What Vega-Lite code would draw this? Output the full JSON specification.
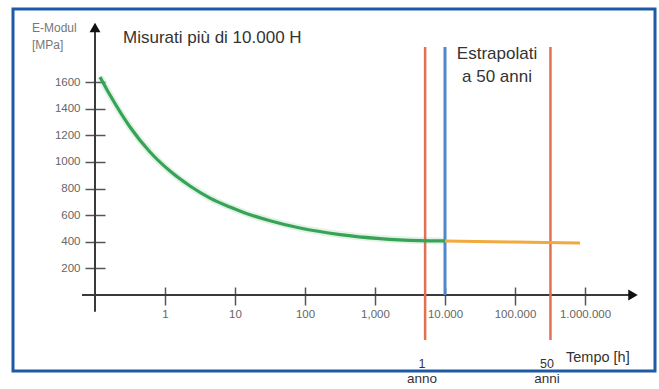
{
  "$schema": "https://vega.github.io/schema/vega-lite/v6.json",
  "width": 642,
  "height": 362,
  "autosize": {"type": "none"},
  "padding": {"left": 13, "top": 9, "right": 4, "bottom": 18},
  "background": "white",
  "config": {
    "view": {"stroke": "#1f5aa6", "strokeWidth": 3, "fill": "white"},
    "font": "Liberation Sans",
    "axis": {"grid": false, "domain": false, "title": null, "tickColor": "#555555", "tickWidth": 1.5, "labelColor": "#666666", "labelFont": "Liberation Sans", "labelFontSize": 11.5, "labelOverlap": false, "labelFlush": false, "labelBound": false}
  },
  "datasets": {
    "misurati": [
      {"h": 0.1179, "E": 1638},
      {"h": 0.1638, "E": 1502},
      {"h": 0.3162, "E": 1262},
      {"h": 0.6105, "E": 1074},
      {"h": 1.179, "E": 931},
      {"h": 2.276, "E": 819},
      {"h": 4.394, "E": 728},
      {"h": 8.483, "E": 661},
      {"h": 16.38, "E": 603},
      {"h": 31.62, "E": 558},
      {"h": 84.83, "E": 503},
      {"h": 316.2, "E": 454},
      {"h": 1179, "E": 424},
      {"h": 4394, "E": 409},
      {"h": 10000, "E": 406}
    ],
    "estrapolati": [
      {"h": 10000, "E": 406},
      {"h": 100000, "E": 398},
      {"h": 850000, "E": 391}
    ],
    "verticali": [
      {"kind": "asse", "h": 0.1, "E": -125, "E2": 1995},
      {"kind": "anno", "h": 5200, "E": -338, "E2": 1863},
      {"kind": "misura", "h": 10000, "E": 0, "E2": 1863},
      {"kind": "anno", "h": 321000, "E": -338, "E2": 1863}
    ],
    "orizzontali": [
      {"h": 0.0652, "h2": 4400000, "E": 0}
    ],
    "frecce": [
      {"dir": "su", "h": 0.1, "E": 2009},
      {"dir": "destra", "h": 4850000, "E": 0}
    ],
    "testi": [
      {"role": "big", "t": "Misurati più di 10.000 H", "h": 0.2512, "E": 1893},
      {"role": "bigc", "t": "Estrapolati", "h": 55300, "E": 1770},
      {"role": "bigc", "t": "a 50 anni", "h": 55300, "E": 1602},
      {"role": "mid", "t": "Tempo [h]", "h": 535000, "E": -500},
      {"role": "small", "t": "E-Modul", "h": 0.01259, "E": 1975},
      {"role": "small", "t": "[MPa]", "h": 0.01259, "E": 1850},
      {"role": "num", "t": "1", "h": 4690, "E": -548},
      {"role": "midc", "t": "anno", "h": 4690, "E": -661},
      {"role": "num", "t": "50", "h": 286600, "E": -548},
      {"role": "midc", "t": "anni", "h": 286600, "E": -661}
    ]
  },
  "layer": [
    {
      "data": {"name": "orizzontali"},
      "mark": {"type": "rule", "color": "#3a3a3a", "strokeWidth": 2},
      "encoding": {
        "x": {"field": "h", "type": "quantitative", "scale": {"type": "log", "domain": [0.1, 1000000], "range": [82, 572]},
          "axis": {"values": [1, 10, 100, 1000, 10000, 100000, 1000000], "orient": "bottom", "offset": -84, "tickSize": 18, "labelPadding": 3,
            "labelExpr": "datum.value < 5 ? '1' : datum.value < 50 ? '10' : datum.value < 500 ? '100' : datum.value < 5000 ? '1,000' : datum.value < 50000 ? '10.000' : datum.value < 500000 ? '100.000' : '1.000.000'"}},
        "x2": {"field": "h2"},
        "y": {"field": "E", "type": "quantitative", "scale": {"domain": [0, 1600], "range": [286, 73]},
          "axis": {"values": [200, 400, 600, 800, 1000, 1200, 1400, 1600], "orient": "left", "offset": -92, "tickSize": 20, "labelPadding": 5, "format": "d"}}
      }
    },
    {
      "data": {"name": "verticali"},
      "mark": {"type": "rule"},
      "encoding": {
        "x": {"field": "h", "type": "quantitative"},
        "y": {"field": "E", "type": "quantitative"},
        "y2": {"field": "E2"},
        "color": {"field": "kind", "type": "nominal", "legend": null, "scale": {"domain": ["asse", "anno", "misura"], "range": ["#3a3a3a", "#e2714f", "#4f86cc"]}},
        "strokeWidth": {"field": "kind", "type": "nominal", "legend": null, "scale": {"domain": ["asse", "anno", "misura"], "range": [2, 3, 2]}}
      }
    },
    {
      "data": {"name": "frecce"},
      "mark": {"type": "point", "filled": true, "color": "#111111", "opacity": 1, "size": 120},
      "encoding": {
        "x": {"field": "h", "type": "quantitative"},
        "y": {"field": "E", "type": "quantitative"},
        "shape": {"field": "dir", "type": "nominal", "legend": null, "scale": {"domain": ["su", "destra"], "range": ["triangle-up", "triangle-right"]}}
      }
    },
    {
      "data": {"name": "misurati"},
      "mark": {"type": "line", "color": "#3aa55a", "strokeWidth": 7, "opacity": 0.15, "interpolate": "monotone"},
      "encoding": {
        "x": {"field": "h", "type": "quantitative"},
        "y": {"field": "E", "type": "quantitative"}
      }
    },
    {
      "data": {"name": "misurati"},
      "mark": {"type": "line", "color": "#36a357", "strokeWidth": 3.2, "interpolate": "monotone"},
      "encoding": {
        "x": {"field": "h", "type": "quantitative"},
        "y": {"field": "E", "type": "quantitative"}
      }
    },
    {
      "data": {"name": "estrapolati"},
      "mark": {"type": "line", "color": "#f2a93e", "strokeWidth": 3, "interpolate": "monotone"},
      "encoding": {
        "x": {"field": "h", "type": "quantitative"},
        "y": {"field": "E", "type": "quantitative"}
      }
    },
    {
      "data": {"name": "testi"},
      "transform": [{"filter": "datum.role == 'big'"}],
      "mark": {"type": "text", "align": "left", "baseline": "alphabetic", "fontSize": 17, "color": "#333333"},
      "encoding": {
        "x": {"field": "h", "type": "quantitative"},
        "y": {"field": "E", "type": "quantitative"},
        "text": {"field": "t"}
      }
    },
    {
      "data": {"name": "testi"},
      "transform": [{"filter": "datum.role == 'bigc'"}],
      "mark": {"type": "text", "align": "center", "baseline": "alphabetic", "fontSize": 17, "color": "#333333"},
      "encoding": {
        "x": {"field": "h", "type": "quantitative"},
        "y": {"field": "E", "type": "quantitative"},
        "text": {"field": "t"}
      }
    },
    {
      "data": {"name": "testi"},
      "transform": [{"filter": "datum.role == 'mid'"}],
      "mark": {"type": "text", "align": "left", "baseline": "alphabetic", "fontSize": 14.5, "color": "#333333"},
      "encoding": {
        "x": {"field": "h", "type": "quantitative"},
        "y": {"field": "E", "type": "quantitative"},
        "text": {"field": "t"}
      }
    },
    {
      "data": {"name": "testi"},
      "transform": [{"filter": "datum.role == 'num'"}],
      "mark": {"type": "text", "align": "center", "baseline": "alphabetic", "fontSize": 12.5, "color": "#333333"},
      "encoding": {
        "x": {"field": "h", "type": "quantitative"},
        "y": {"field": "E", "type": "quantitative"},
        "text": {"field": "t"}
      }
    },
    {
      "data": {"name": "testi"},
      "transform": [{"filter": "datum.role == 'midc'"}],
      "mark": {"type": "text", "align": "center", "baseline": "alphabetic", "fontSize": 13.5, "color": "#333333"},
      "encoding": {
        "x": {"field": "h", "type": "quantitative"},
        "y": {"field": "E", "type": "quantitative"},
        "text": {"field": "t"}
      }
    },
    {
      "data": {"name": "testi"},
      "transform": [{"filter": "datum.role == 'small'"}],
      "mark": {"type": "text", "align": "left", "baseline": "alphabetic", "fontSize": 12, "color": "#777777"},
      "encoding": {
        "x": {"field": "h", "type": "quantitative"},
        "y": {"field": "E", "type": "quantitative"},
        "text": {"field": "t"}
      }
    }
  ]
}
